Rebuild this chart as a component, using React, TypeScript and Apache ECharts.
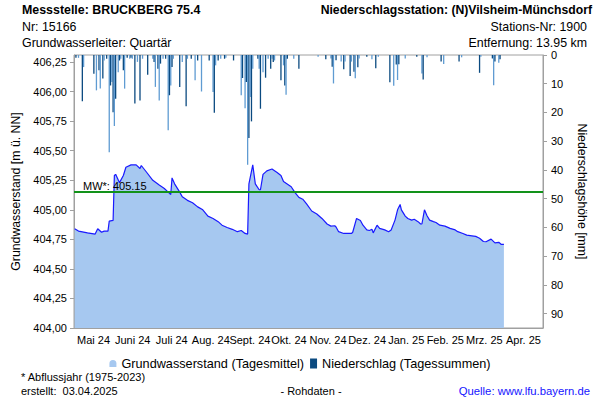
import React, { useEffect, useRef } from "react";
import * as echarts from "echarts";

// ---------- data ----------
const monthLabels = ["Mai 24", "Juni 24", "Juli 24", "Aug. 24", "Sept. 24", "Okt. 24", "Nov. 24", "Dez. 24", "Jan. 25", "Feb. 25", "Mrz. 25", "Apr. 25"];
const xStart = "2024-05-01";
const xEnd = "2025-05-01";
const meanLevel = 405.15;

const gwDates = [
  "2024-05-01", "2024-05-04", "2024-05-11", "2024-05-17", "2024-05-19", "2024-05-22", "2024-05-24", "2024-05-27", "2024-05-28", "2024-05-31",
  "2024-06-01", "2024-06-02", "2024-06-05", "2024-06-08", "2024-06-10", "2024-06-14", "2024-06-18", "2024-06-21", "2024-06-22", "2024-06-26",
  "2024-07-01", "2024-07-06", "2024-07-10", "2024-07-13", "2024-07-15", "2024-07-16", "2024-07-18", "2024-07-22", "2024-07-24", "2024-07-28",
  "2024-08-01", "2024-08-05", "2024-08-09", "2024-08-13", "2024-08-17", "2024-08-21", "2024-08-24", "2024-08-28",
  "2024-09-01", "2024-09-05", "2024-09-08", "2024-09-11", "2024-09-13", "2024-09-14", "2024-09-17", "2024-09-19", "2024-09-22", "2024-09-23", "2024-09-25", "2024-09-28",
  "2024-10-02", "2024-10-06", "2024-10-09", "2024-10-11", "2024-10-17", "2024-10-20", "2024-10-23", "2024-10-26", "2024-10-29",
  "2024-11-02", "2024-11-06", "2024-11-10", "2024-11-14", "2024-11-17", "2024-11-20", "2024-11-21", "2024-11-23", "2024-11-27", "2024-11-30",
  "2024-12-03", "2024-12-04", "2024-12-07", "2024-12-10", "2024-12-12", "2024-12-15", "2024-12-17", "2024-12-19", "2024-12-20", "2024-12-23", "2024-12-25", "2024-12-29",
  "2025-01-01", "2025-01-03", "2025-01-06", "2025-01-08", "2025-01-10", "2025-01-11", "2025-01-14", "2025-01-16", "2025-01-19", "2025-01-21", "2025-01-24", "2025-01-26", "2025-01-27", "2025-01-29", "2025-01-31",
  "2025-02-02", "2025-02-05", "2025-02-07", "2025-02-10", "2025-02-14", "2025-02-18", "2025-02-22", "2025-02-24", "2025-02-28",
  "2025-03-03", "2025-03-07", "2025-03-10", "2025-03-13", "2025-03-16", "2025-03-18", "2025-03-22", "2025-03-25", "2025-03-28", "2025-03-30", "2025-04-01",
];
const gwValues = [
  404.84, 404.82, 404.805, 404.795, 404.84, 404.81, 404.82, 404.82, 404.905, 404.91,
  405.29, 405.30, 405.23, 405.29, 405.36, 405.38, 405.38, 405.35, 405.375, 405.32,
  405.25, 405.21, 405.18, 405.15, 405.13, 405.27, 405.22, 405.15, 405.11, 405.08,
  405.06, 405.025, 405.0, 404.947, 404.927, 404.90, 404.87, 404.85,
  404.835, 404.815, 404.825, 404.80, 404.795, 405.22, 405.38, 405.22, 405.17, 405.17, 405.30, 405.33,
  405.345, 405.315, 405.29, 405.24, 405.195, 405.145, 405.105, 405.09, 405.05,
  404.99, 404.965, 404.927, 404.88, 404.862, 404.865, 404.855, 404.815, 404.80, 404.80,
  404.80, 404.81, 404.927, 404.91, 404.87, 404.83, 404.825, 404.835, 404.805, 404.87, 404.843, 404.83,
  404.815, 404.83, 404.913, 405.0, 405.045, 405.0, 404.947, 404.927, 404.913, 404.92, 404.90, 404.88, 404.88, 405.0, 404.95,
  404.913, 404.90, 404.893, 404.87, 404.862, 404.843, 404.83, 404.815, 404.80,
  404.786, 404.78, 404.775, 404.76, 404.732, 404.73, 404.752, 404.72, 404.725, 404.707, 404.707,
];

// precipitation: day offsets from xStart and daily sums (mm)
const precipDays = [
  1, 3, 6, 7, 15, 17, 19, 20, 22, 23, 25, 27, 28, 29, 30, 31, 32, 34, 35, 36, 38, 39, 41, 43, 44, 45, 47, 49, 51, 53, 57,
  61, 62, 63, 65, 66, 67, 69, 71, 73, 74, 75, 76, 77, 82, 84, 87, 88, 91, 94, 96, 99, 105, 108, 109, 110, 112, 114, 117, 118,
  124, 130, 131, 133, 134, 135, 136, 137, 138, 139, 143, 144, 145, 147, 149, 151, 153, 154, 155, 156, 161, 163, 164, 165, 166, 171, 175,
  190, 196, 200, 201, 202, 204, 208, 210, 211, 215, 216, 218, 219, 221, 222, 228, 232, 235, 237,
  246, 249, 251, 252, 253, 258, 267, 271, 272, 275, 286, 288, 300, 302, 316, 317, 326, 327, 328, 331, 332,
];
const precipMm = [
  1.0, 1.0, 16.1, 4.2, 6.5, 12.3, 5.3, 11.7, 8.2, 1.9, 1.3, 33.8, 10.6, 9.4, 19.9, 24.7, 15.2, 6.0, 1.9, 1.3, 5.3, 11.7, 1.0, 1.3, 1.0, 1.3, 16.9, 2.4, 15.8, 1.3, 6.9,
  1.3, 2.4, 11.1, 4.8, 15.8, 3.0, 1.3, 1.3, 26.2, 14.0, 10.6, 4.2, 1.3, 11.1, 2.4, 17.8, 1.3, 1.3, 8.8, 1.9, 12.7, 1.9, 12.9, 20.1, 3.6, 1.9, 1.3, 1.3, 1.0,
  1.9, 14.0, 8.0, 18.5, 9.4, 38.2, 28.9, 14.6, 23.1, 4.8, 1.3, 4.8, 18.7, 6.0, 7.9, 1.3, 4.8, 1.3, 2.4, 1.9, 8.8, 3.6, 10.6, 13.8, 1.3, 1.3, 4.8,
  0.6, 1.5, 1.2, 4.1, 9.9, 1.8, 2.3, 5.0, 2.3, 7.3, 2.3, 5.8, 8.1, 4.3, 1.2, 0.6, 1.5, 4.6, 0.6,
  9.5, 10.7, 3.3, 8.7, 3.2, 1.2, 0.6, 6.4, 8.5, 0.8, 2.3, 3.1, 2.3, 0.8, 6.2, 0.6, 1.2, 10.5, 2.3, 2.7, 1.5,
];

const FONT = "'Liberation Sans', Arial, sans-serif";

function dayToTime(d: number) {
  const [y, m, dd] = xStart.split("-").map(Number);
  return new Date(y, m - 1, dd + d).getTime();
}

export default function App() {
  const ref = useRef<HTMLDivElement>(null);
  useEffect(() => {
    if (!ref.current) return;
    const chart = echarts.init(ref.current, null, { renderer: "svg" });
    const gwData = gwDates.map((d, i) => [d, gwValues[i]]);
    const prData = precipDays.map((d, i) => [dayToTime(d), precipMm[i]]);
    const txt = (text: string, x: number, y: number, opts: any = {}) => ({
      type: "text",
      x,
      y,
      style: { text, fontFamily: FONT, fontSize: 12.4, fill: "#000", ...opts },
    });
    chart.setOption({
      animation: false,
      backgroundColor: "#fff",
      textStyle: { fontFamily: FONT },
      grid: { left: 74, right: 57, top: 55, bottom: 72, show: true, borderColor: "#a0a0a0", borderWidth: 1 },
      graphic: [
        txt("Messstelle: BRUCKBERG 75.4", 22, 4, { fontWeight: "bold" }),
        txt("Nr: 15166", 22, 21),
        txt("Grundwasserleiter: Quartär", 22, 37),
        txt("Niederschlagsstation: (N)Vilsheim-Münchsdorf", 592, 4, { fontWeight: "bold", align: "right", fontSize: 12.2 }),
        txt("Stations-Nr: 1900", 587, 21, { align: "right" }),
        txt("Entfernung: 13.95 km", 587, 37, { align: "right" }),
        txt("* Abflussjahr (1975-2023)", 21, 371, { fontSize: 11 }),
        txt("erstellt:  03.04.2025", 21, 385, { fontSize: 11 }),
        txt("- Rohdaten -", 311, 385, { fontSize: 11, align: "center" }),
        txt("Quelle: www.lfu.bayern.de", 590, 385, { fontSize: 11.3, align: "right", fill: "#1414ff" }),
      ],
      legend: {
        top: 352,
        left: "center",
        itemGap: 6,
        itemWidth: 7,
        itemHeight: 10,
        textStyle: { fontFamily: FONT, fontSize: 12.7, color: "#000" },
        data: [
          { name: "Grundwasserstand (Tagesmittel)", icon: "path://M0,10 L0,5 Q0,0 5,0 Q10,0 10,5 L10,10 Z", itemStyle: { color: "#a6c8f0" } },
          { name: "Niederschlag (Tagessummen)", icon: "rect", itemStyle: { color: "#0b4a80" } },
        ],
      },
      xAxis: [
        { type: "time", min: xStart, max: xEnd, show: false },
        {
          type: "category",
          position: "bottom",
          data: monthLabels,
          boundaryGap: true,
          axisLine: { lineStyle: { color: "#a0a0a0" } },
          axisTick: { lineStyle: { color: "#a0a0a0" }, length: 4 },
          axisLabel: { color: "#000", fontSize: 11, fontFamily: FONT, margin: 6, interval: 0 },
        },
      ],
      yAxis: [
        {
          type: "value",
          min: 404,
          max: 406.31,
          interval: 0.25,
          name: "Grundwasserstand [m ü. NN]",
          nameLocation: "middle",
          nameRotate: 90,
          nameGap: 47,
          nameTextStyle: { color: "#000", fontSize: 12.3, fontFamily: FONT },
          axisLine: { show: true, lineStyle: { color: "#a0a0a0" } },
          axisTick: { show: true, length: 4, lineStyle: { color: "#a0a0a0" } },
          splitLine: { show: false },
          axisLabel: {
            color: "#000",
            fontSize: 11,
            fontFamily: FONT,
            margin: 7,
            showMaxLabel: false,
            formatter: (v: number) => (Math.abs(v * 4 - Math.round(v * 4)) < 1e-6 ? v.toFixed(2).replace(".", ",") : ""),
          },
        },
        {
          type: "value",
          position: "right",
          inverse: true,
          min: 0,
          max: 95,
          interval: 10,
          name: "Niederschlagshöhe [mm]",
          nameLocation: "middle",
          nameRotate: -90,
          nameGap: 33,
          nameTextStyle: { color: "#000", fontSize: 12.3, fontFamily: FONT },
          axisLine: { show: true, lineStyle: { color: "#a0a0a0" } },
          axisTick: { show: true, length: 4, lineStyle: { color: "#a0a0a0" } },
          splitLine: { show: false },
          axisLabel: {
            color: "#000",
            fontSize: 11,
            fontFamily: FONT,
            margin: 8,
            showMaxLabel: false,
            formatter: (v: number) => (v % 10 === 0 ? String(v) : ""),
          },
        },
      ],
      series: [
        {
          name: "Grundwasserstand (Tagesmittel)",
          type: "line",
          xAxisIndex: 0,
          yAxisIndex: 0,
          data: gwData,
          showSymbol: false,
          symbol: "none",
          lineStyle: { color: "#1a1aff", width: 1.2 },
          itemStyle: { color: "#a6c8f0" },
          areaStyle: { color: "#a6c8f0", opacity: 1, origin: "start" },
          z: 2,
          markLine: {
            silent: true,
            symbol: "none",
            lineStyle: { color: "#12921a", width: 2, type: "solid" },
            label: {
              position: "insideStartTop",
              formatter: "MW*: " + meanLevel.toFixed(2),
              color: "#000",
              fontSize: 11,
              fontFamily: FONT,
              distance: [9, 1],
            },
            data: [{ yAxis: meanLevel }],
          },
        },
        {
          name: "Niederschlag (Tagessummen)",
          type: "bar",
          xAxisIndex: 0,
          yAxisIndex: 1,
          data: prData,
          barWidth: 1.3,
          itemStyle: {
            color: (p: any) => (p.dataIndex % 2 === 0 ? "#0b4a80" : "#5f9bd2"),
          },
          z: 3,
        },
      ],
    });
    return () => chart.dispose();
  }, []);
  return (
    <div
      ref={ref}
      style={{ position: "fixed", left: 0, top: 0, width: 600, height: 400, background: "#fff" }}
    />
  );
}
